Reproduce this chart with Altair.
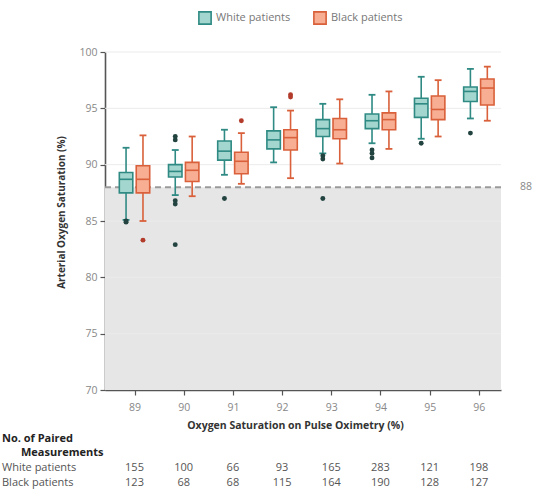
import altair as alt
import pandas as pd

# ---------------- data ----------------
sat = [89, 90, 91, 92, 93, 94, 95, 96]

white_low = [85.1, 87.3, 89.1, 90.2, 91.0, 91.9, 92.3, 94.1]
white_q1 = [87.5, 88.9, 90.4, 91.4, 92.5, 93.2, 94.2, 95.6]
white_med = [88.7, 89.4, 91.2, 92.2, 93.2, 93.9, 95.4, 96.5]
white_q3 = [89.3, 90.0, 92.1, 93.0, 94.0, 94.5, 95.9, 96.9]
white_high = [91.5, 91.3, 93.1, 95.1, 95.4, 96.2, 97.8, 98.5]

black_low = [85.0, 87.2, 88.3, 88.8, 90.1, 91.4, 92.5, 93.9]
black_q1 = [87.5, 88.5, 89.2, 91.3, 92.3, 93.1, 94.0, 95.3]
black_med = [88.7, 89.5, 90.3, 92.4, 93.1, 94.0, 94.9, 96.8]
black_q3 = [89.9, 90.2, 91.1, 93.1, 94.1, 94.6, 96.1, 97.6]
black_high = [92.6, 92.5, 92.8, 94.8, 95.8, 96.5, 97.5, 98.7]

white_out_sat = [89, 89, 90, 90, 90, 90, 90, 91, 93, 93, 93, 94, 94, 94, 95, 96]
white_out_val = [85.0, 84.9, 92.2, 92.5, 86.8, 86.5, 82.9, 87.0, 90.8, 90.5, 87.0, 91.3, 91.0, 90.6, 91.9, 92.8]
black_out_sat = [89, 91, 92, 92]
black_out_val = [83.3, 93.9, 96.2, 96.0]

white_n = [155, 100, 66, 93, 165, 283, 121, 198]
black_n = [123, 68, 68, 115, 164, 190, 128, 127]

groups = ["White patients", "Black patients"]
row_labels = ["White patients", "Black patients"]
threshold = 88
grid_vals = [75, 80, 85, 90, 95, 100]

# ---------------- tables ----------------
rows = []
for g, lo, q1, md, q3, hi in [
    (groups[0], white_low, white_q1, white_med, white_q3, white_high),
    (groups[1], black_low, black_q1, black_med, black_q3, black_high),
]:
    for i, s in enumerate(sat):
        rows.append(dict(sat=s, group=g, low=lo[i], q1=q1[i], med=md[i], q3=q3[i], high=hi[i]))
stats = pd.DataFrame(rows)

outl = pd.DataFrame(
    [dict(sat=s, val=v, group=groups[0]) for s, v in zip(white_out_sat, white_out_val)]
    + [dict(sat=s, val=v, group=groups[1]) for s, v in zip(black_out_sat, black_out_val)]
)

counts = pd.DataFrame(
    [dict(sat=s, n=n, row=row_labels[0]) for s, n in zip(sat, white_n)]
    + [dict(sat=s, n=n, row=row_labels[1]) for s, n in zip(sat, black_n)]
)

# ---------------- styling ----------------
W, H = 396, 338
FONT = "Open Sans"
fill_light = ["#a3d6ce", "#f7ae93"]
stroke_dark = ["#2f8a84", "#d9603a"]

xs = alt.Scale(domain=[88.4, 96.45], nice=False, zero=False)
ys = alt.Scale(domain=[70, 100], nice=False, zero=False)
xaxis = alt.Axis(values=sat, format="d", grid=False, title="Oxygen Saturation on Pulse Oximetry (%)",
                 labelColor="#888", labelFontSize=10.5, labelPadding=7, tickSize=5,
                 tickColor="#555", domainColor="#555", domainWidth=1.6, tickWidth=1.2,
                 titleFontWeight="bold", titleFontSize=10.5, titleColor="#333", titlePadding=8,
                 titleX=190, labelFont=FONT, titleFont=FONT)
yaxis = alt.Axis(values=grid_vals + [70], grid=False, title="Arterial Oxygen Saturation (%)",
                 labelColor="#888", labelFontSize=10.5, labelPadding=3, tickSize=5,
                 tickColor="#555", domainColor="#555", domainWidth=1.6, tickWidth=1.2,
                 titleFontWeight="bold", titleFontSize=10, titleColor="#333", titlePadding=12,
                 titleY=160, labelFont=FONT, titleFont=FONT)


def X(field):
    return alt.X(field, type="quantitative", scale=xs, axis=xaxis)


def Y(field):
    return alt.Y(field, type="quantitative", scale=ys, axis=yaxis)


colscale = alt.Scale(domain=groups, range=stroke_dark)
fillscale = alt.Scale(domain=groups, range=fill_light)

# shaded region below 88
shade = alt.Chart(pd.DataFrame({"lo": [70], "hi": [threshold]})).mark_rect(color="#e6e6e6").encode(
    x=alt.value(0), x2=alt.value(W), y=Y("lo"), y2="hi"
)

grid = alt.Chart(pd.DataFrame({"g": grid_vals})).mark_rule(color="#ebebeb", strokeWidth=1).encode(
    x=alt.value(0), x2=alt.value(W), y=Y("g")
)

dash = alt.Chart(pd.DataFrame({"t": [threshold]})).mark_rule(
    color="#9a9a9a", strokeWidth=2, strokeDash=[6, 4]
).encode(x=alt.value(0), x2=alt.value(W), y=Y("t"))

dash_lbl = alt.Chart(pd.DataFrame({"t": [threshold], "lab": [str(threshold)]})).mark_text(
    align="left", baseline="middle", font=FONT, fontSize=10.5, color="#888"
).encode(x=alt.value(W + 19), y=Y("t"), text="lab")

base = alt.Chart(stats).transform_calculate(
    pos=f"datum.sat + (datum.group == '{groups[0]}' ? -0.172 : 0.172)"
).transform_calculate(
    left="datum.pos - 0.137", right="datum.pos + 0.137",
    cl="datum.pos - 0.07", cr="datum.pos + 0.07",
)

color_enc = alt.Color("group:N", scale=colscale, legend=None)

whisk_lo = base.mark_rule(strokeWidth=1.6).encode(x=X("pos"), y=Y("low"), y2="q1", color=color_enc)
whisk_hi = base.mark_rule(strokeWidth=1.6).encode(x=X("pos"), y=Y("q3"), y2="high", color=color_enc)
cap_lo = base.mark_rule(strokeWidth=1.8).encode(x=X("cl"), x2="cr", y=Y("low"), color=color_enc)
cap_hi = base.mark_rule(strokeWidth=1.8).encode(x=X("cl"), x2="cr", y=Y("high"), color=color_enc)

box = base.mark_rect(strokeWidth=1.6).encode(
    x=X("left"), x2="right", y=Y("q1"), y2="q3",
    fill=alt.Fill("group:N", scale=fillscale, legend=None),
    stroke=alt.Stroke("group:N", scale=colscale, legend=None),
)
median = base.mark_rule(strokeWidth=1.6).encode(x=X("left"), x2="right", y=Y("med"), color=color_enc)

obase = alt.Chart(outl).transform_calculate(
    pos=f"datum.sat + (datum.group == '{groups[0]}' ? -0.172 : 0.172)"
)
out_w = obase.transform_filter(f"datum.group == '{groups[0]}'").mark_circle(
    size=24, color="#22433f", opacity=1).encode(x=X("pos"), y=Y("val"))
out_b = obase.transform_filter(f"datum.group == '{groups[1]}'").mark_circle(
    size=24, color="#b33b2b", opacity=1).encode(x=X("pos"), y=Y("val"))

# manual legend above the plot (pixel layout, relative to plot origin)
LEG_Y = -34
leg_sq = []
leg_tx = []
for i, (gx, tx) in enumerate([(100, 111), (215, 226)]):
    leg_sq.append(
        alt.Chart(pd.DataFrame({"g": [groups[i]]})).mark_point(
            shape="square", size=150, filled=True, fill=fill_light[i], stroke=stroke_dark[i],
            strokeWidth=1.6, opacity=1, fillOpacity=1
        ).encode(x=alt.value(gx), y=alt.value(LEG_Y))
    )
    leg_tx.append(
        alt.Chart(pd.DataFrame({"g": [groups[i]]})).mark_text(
            align="left", baseline="middle", font=FONT, fontSize=11, color="#777"
        ).encode(x=alt.value(tx), y=alt.value(LEG_Y), text="g")
    )

# table below the chart (pixel rows measured from plot top)
TFS = 11
Y_HDR1, Y_HDR2, Y_W, Y_B = H + 49, H + 63, H + 78, H + 93
tbl_w = alt.Chart(counts).transform_filter(f"datum.row == '{row_labels[0]}'").mark_text(
    font=FONT, fontSize=TFS, color="#555", baseline="middle").encode(
    x=X("sat"), y=alt.value(Y_W), text="n:Q")
tbl_b = alt.Chart(counts).transform_filter(f"datum.row == '{row_labels[1]}'").mark_text(
    font=FONT, fontSize=TFS, color="#555", baseline="middle").encode(
    x=X("sat"), y=alt.value(Y_B), text="n:Q")

hdr = pd.DataFrame({"txt": ["No. of Paired", "Measurements", row_labels[0], row_labels[1]]})
hdr1 = alt.Chart(hdr.iloc[[0]]).mark_text(font=FONT, fontSize=TFS, fontWeight="bold", color="#222",
                                          align="left", baseline="middle").encode(
    x=alt.value(-103), y=alt.value(Y_HDR1), text="txt")
hdr2 = alt.Chart(hdr.iloc[[1]]).mark_text(font=FONT, fontSize=TFS, fontWeight="bold", color="#222",
                                          align="left", baseline="middle").encode(
    x=alt.value(-84), y=alt.value(Y_HDR2), text="txt")
hdr3 = alt.Chart(hdr.iloc[[2]]).mark_text(font=FONT, fontSize=TFS, color="#555",
                                          align="left", baseline="middle").encode(
    x=alt.value(-103), y=alt.value(Y_W), text="txt")
hdr4 = alt.Chart(hdr.iloc[[3]]).mark_text(font=FONT, fontSize=TFS, color="#555",
                                          align="left", baseline="middle").encode(
    x=alt.value(-103), y=alt.value(Y_B), text="txt")

chart = alt.layer(
    shade, grid, dash, dash_lbl,
    whisk_lo, whisk_hi, cap_lo, cap_hi, box, median, out_w, out_b,
    *leg_sq, *leg_tx,
    tbl_w, tbl_b, hdr1, hdr2, hdr3, hdr4,
).resolve_scale(x="shared", y="shared").properties(
    width=W, height=H,
    autosize=alt.AutoSizeParams(type="none"),
    padding={"left": 105, "top": 52, "right": 33, "bottom": 107},
).configure_view(stroke=None)

chart.save("out.html", embed_options={"renderer": "svg", "actions": False})
